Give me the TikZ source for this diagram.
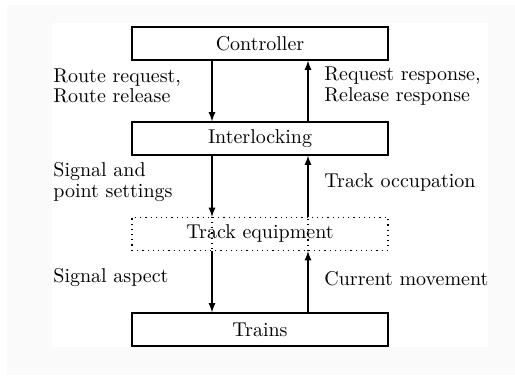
\documentclass[tikz,border=0pt]{standalone}
\usepackage{tikz}
\usetikzlibrary{arrows}

\begin{document}
\begin{tikzpicture}[x=.5pt,y=.5pt]
\tikzstyle{block}=[draw, semithick, minimum width=128pt, minimum height=16.5pt, inner sep=0pt]
\tikzstyle{lbl}=[anchor=west, align=left, inner sep=0pt, font=\fontsize{10}{10.2}\selectfont]
\useasboundingbox (0,0) rectangle (515,380);
\fill [gray!4] (7,5) rectangle (515,375);
\fill [white] (52,33) rectangle (488,357);
% the four levels
\draw (260,336.5) node (ctrl) [block] {Controller};
\draw (260,241.5) node (intl) [block] {Interlocking};
\draw (260,146) node (track) [block,dotted] {Track equipment};
\draw (260,50.5) node (trains) [block] {Trains};
% down links
\draw [semithick,-latex] ([xshift=-24pt]ctrl.south) -- ([xshift=-24pt]intl.north);
\draw [semithick,-latex] ([xshift=-24pt]intl.south) -- ([xshift=-24pt]track.north);
\draw [semithick,dotted] ([xshift=-24pt]track.north) -- ([xshift=-24pt]track.south);
\draw [semithick,-latex] ([xshift=-24pt]track.south) -- ([xshift=-24pt]trains.north);
% up links
\draw [semithick,-latex] ([xshift=24pt]trains.north) -- ([xshift=24pt]track.south);
\draw [semithick,dotted] ([xshift=24pt]track.south) -- ([xshift=24pt]track.north);
\draw [semithick,-latex] ([xshift=24pt]track.north) -- ([xshift=24pt]intl.south);
\draw [semithick,-latex] ([xshift=24pt]intl.north) -- ([xshift=24pt]ctrl.south);
% labels
\draw (53,294) node (rreq) [lbl] {Route request,\\Route release};
\draw (324,294) node (rresp) [lbl] {Request response,\\Release response};
\draw (53,198) node (sps) [lbl] {Signal and\\point settings};
\draw (324,197) node (occ) [lbl] {Track occupation};
\draw (53,102) node (asp) [lbl] {Signal aspect};
\draw (324,101) node (mov) [lbl] {Current movement};
\end{tikzpicture}
\end{document}
